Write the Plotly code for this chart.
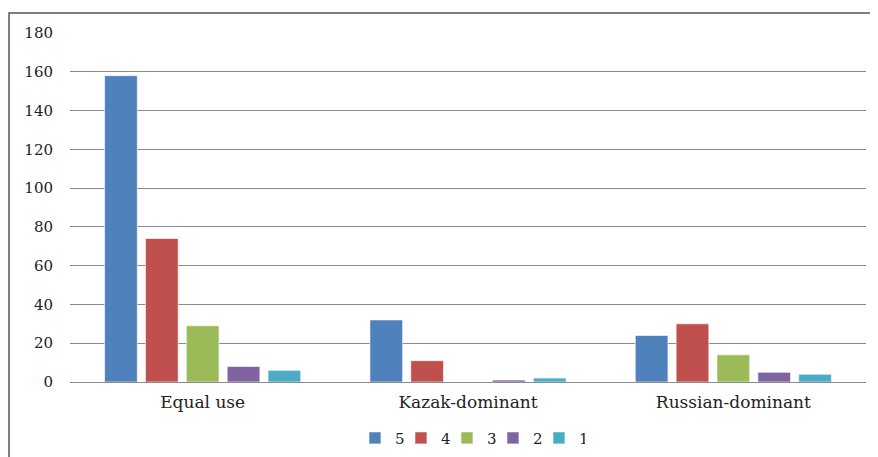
import plotly.graph_objects as go

categories = ["Equal use", "Kazak-dominant", "Russian-dominant"]
series_names = ["5", "4", "3", "2", "1"]
values = {
    "5": [158, 32, 24],
    "4": [74, 11, 30],
    "3": [29, 0, 14],
    "2": [8, 1, 5],
    "1": [6, 2, 4],
}
colors = ["#4F81BD", "#C0504D", "#9BBB59", "#8064A2", "#4BACC6"]
y_ticks = [0, 20, 40, 60, 80, 100, 120, 140, 160, 180]

fig = go.Figure()
for name, col in zip(series_names, colors):
    fig.add_trace(go.Bar(x=categories, y=values[name], name=name,
                         marker=dict(color=col, line=dict(color="rgba(255,255,255,0.6)", width=1))))

fig.update_layout(
    width=870, height=449,
    margin=dict(l=62, r=12, t=25, b=75, autoexpand=False),
    paper_bgcolor="white", plot_bgcolor="white",
    barmode="group", bargap=0.23, bargroupgap=0.2,
    font=dict(family="DejaVu Serif", size=14, color="#222"),
    legend=dict(orientation="h", x=0.531, xanchor="center", xref="container",
                y=0.042, yanchor="middle", yref="container",
                font=dict(size=15), itemwidth=30, entrywidth=1, traceorder="normal"),
    showlegend=True,
    xaxis=dict(showgrid=False, showline=False, ticks="", ticklabelstandoff=8,
               automargin=False, tickfont=dict(size=17)),
    yaxis=dict(range=[0, 180], tickvals=y_ticks, showgrid=True, gridcolor="#8a8a8a",
               gridwidth=1.3, zeroline=True, zerolinecolor="#8a8a8a", zerolinewidth=1.3,
               showline=False, ticks="", ticklabelstandoff=16, automargin=False,
               tickfont=dict(size=15)),
    shapes=[dict(type="rect", xref="paper", yref="paper", x0=-0.0766, y0=-0.35,
                 x1=1.05, y1=1.0573, line=dict(color="#555", width=1.5), layer="below")],
)

fig.write_html("out.html")
